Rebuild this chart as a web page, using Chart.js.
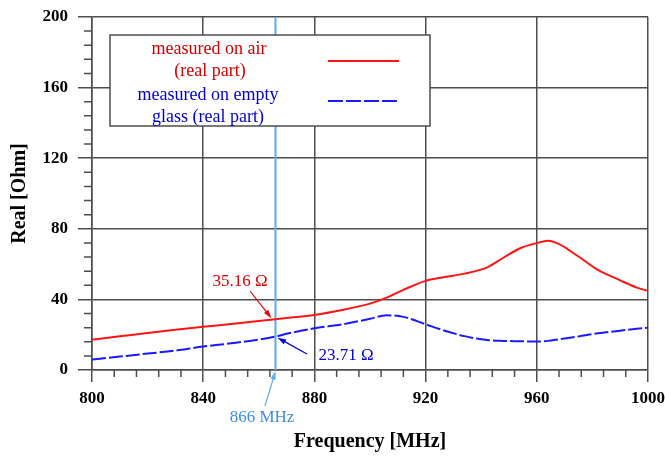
<!DOCTYPE html>
<html>
<head>
<meta charset="utf-8">
<script src="https://cdn.jsdelivr.net/npm/chart.js@4"></script>
<style>
  body { margin: 0; background: #fff; }
  canvas { display: block; }
</style>
</head>
<body>
<canvas id="chart" width="665" height="456"></canvas>
<script>
const freqs = [800, 810, 820, 830, 840, 850, 860, 866, 870, 880, 890, 900, 906, 912, 920, 926, 934, 942, 948, 954, 960, 964, 968, 975, 982, 990, 996, 1000];
const airReal = [17.2, 19.1, 21.0, 22.8, 24.5, 26.0, 27.7, 28.8, 29.5, 31.2, 34.0, 37.6, 41.0, 45.4, 50.5, 52.4, 54.6, 58.0, 63.6, 69.0, 71.9, 73.2, 71.3, 64.3, 56.7, 50.8, 46.7, 44.8];
const glassReal = [5.9, 7.6, 9.3, 11.0, 13.3, 15.1, 17.2, 18.9, 20.5, 23.6, 25.9, 29.0, 31.0, 30.1, 25.9, 22.7, 19.2, 17.0, 16.5, 16.3, 16.1, 16.5, 17.4, 19.0, 20.8, 22.3, 23.4, 24.0];
const seriesNames = [["measured on air", "(real part)"], ["measured on empty", "glass (real part)"]];
const xTicks = [800, 840, 880, 920, 960, 1000];
const yTicks = [0, 40, 80, 120, 160, 200];
const markerFreq = 866;
const airLabel = "35.16 Ω";
const glassLabel = "23.71 Ω";

const SERIF = "'Liberation Serif', 'Times New Roman', serif";
const GRID = "#4d4d4d";
const RED = "#ff1414";
const BLUE = "#1a1aff";
const MARKER = "#5aacf0";

function arrow(ctx, x0, y0, x1, y1, color) {
  const ang = Math.atan2(y1 - y0, x1 - x0);
  const head = 9;
  ctx.save();
  ctx.strokeStyle = color;
  ctx.fillStyle = color;
  ctx.lineWidth = 1.2;
  ctx.beginPath();
  ctx.moveTo(x0, y0);
  ctx.lineTo(x1 - Math.cos(ang) * head * 0.8, y1 - Math.sin(ang) * head * 0.8);
  ctx.stroke();
  ctx.beginPath();
  ctx.moveTo(x1, y1);
  ctx.lineTo(x1 - head * Math.cos(ang - 0.3), y1 - head * Math.sin(ang - 0.3));
  ctx.lineTo(x1 - head * Math.cos(ang + 0.3), y1 - head * Math.sin(ang + 0.3));
  ctx.closePath();
  ctx.fill();
  ctx.restore();
}

const extras = {
  id: "extras",
  beforeDatasetsDraw(chart) {
    const { ctx, chartArea, scales: { x, y } } = chart;
    // minor ticks every 8 units
    ctx.save();
    ctx.strokeStyle = GRID;
    ctx.lineWidth = 1.5;
    ctx.beginPath();
    for (let f = 808; f < 1000; f += 8) {
      if (f % 40 === 0) continue;
      const px = x.getPixelForValue(f);
      ctx.moveTo(px, chartArea.bottom);
      ctx.lineTo(px, chartArea.bottom + 7);
    }
    for (let v = 8; v < 200; v += 8) {
      if (v % 40 === 0) continue;
      const py = y.getPixelForValue(v);
      ctx.moveTo(chartArea.left - 8, py);
      ctx.lineTo(chartArea.left, py);
    }
    ctx.stroke();
    // 866 MHz marker
    const mx = x.getPixelForValue(markerFreq);
    ctx.strokeStyle = MARKER;
    ctx.lineWidth = 2;
    ctx.beginPath();
    ctx.moveTo(mx, chartArea.top);
    ctx.lineTo(mx, chartArea.bottom);
    ctx.stroke();
    ctx.restore();
  },
  afterDatasetsDraw(chart) {
    const { ctx, chartArea, scales: { x, y } } = chart;
    const i = freqs.indexOf(markerFreq);
    const mx = x.getPixelForValue(markerFreq);
    const airY = y.getPixelForValue(airReal[i]);
    const glassY = y.getPixelForValue(glassReal[i]);

    ctx.save();
    ctx.textAlign = "center";
    ctx.textBaseline = "middle";
    ctx.font = "17px " + SERIF;
    ctx.fillStyle = "#d80000";
    ctx.fillText(airLabel, 240, 282);
    arrow(ctx, 250, 291, mx - 4, airY - 1, "#e00000");
    ctx.fillStyle = "#0000c8";
    ctx.fillText(glassLabel, 346, 356);
    arrow(ctx, 307, 354, mx + 2, glassY + 1, "#0000e0");
    ctx.fillStyle = "#3a8ee0";
    ctx.fillText(markerFreq + " MHz", 262, 418);
    arrow(ctx, 265, 406, mx, chartArea.bottom + 1, MARKER);

    // legend box
    ctx.fillStyle = "#fff";
    ctx.fillRect(110, 35, 320, 91);
    ctx.strokeStyle = GRID;
    ctx.lineWidth = 1.5;
    ctx.strokeRect(110, 35, 320, 91);
    ctx.font = "18px " + SERIF;
    ctx.fillStyle = "#d00000";
    ctx.fillText(seriesNames[0][0], 209, 49);
    ctx.fillText(seriesNames[0][1], 210, 71);
    ctx.fillStyle = "#0000cc";
    ctx.fillText(seriesNames[1][0], 208, 95);
    ctx.fillText(seriesNames[1][1], 208, 117);
    ctx.lineWidth = 2;
    ctx.strokeStyle = RED;
    ctx.beginPath();
    ctx.moveTo(328, 61);
    ctx.lineTo(399, 61);
    ctx.stroke();
    ctx.strokeStyle = BLUE;
    ctx.setLineDash([15, 3]);
    ctx.beginPath();
    ctx.moveTo(328, 101);
    ctx.lineTo(399, 101);
    ctx.stroke();
    ctx.restore();
  }
};

// keep the plot box fixed regardless of tick label overhang
function fixBox(scale) {
  scale.paddingLeft = 0;
  scale.paddingRight = 0;
  scale.paddingTop = 0;
  scale.paddingBottom = 0;
}

const ctx = document.getElementById("chart").getContext("2d");
new Chart(ctx, {
  type: "line",
  data: {
    datasets: [
      {
        label: seriesNames[0].join(" "),
        data: freqs.map((f, i) => ({ x: f, y: airReal[i] })),
        borderColor: RED,
        borderWidth: 2,
        pointRadius: 0,
        cubicInterpolationMode: "monotone",
        fill: false
      },
      {
        label: seriesNames[1].join(" "),
        data: freqs.map((f, i) => ({ x: f, y: glassReal[i] })),
        borderColor: BLUE,
        borderWidth: 2,
        borderDash: [14, 3],
        pointRadius: 0,
        cubicInterpolationMode: "monotone",
        fill: false
      }
    ]
  },
  options: {
    responsive: false,
    animation: false,
    devicePixelRatio: 1,
    layout: { padding: { left: 0, right: 17, top: 17, bottom: 0 } },
    plugins: {
      legend: { display: false },
      tooltip: { enabled: false }
    },
    scales: {
      x: {
        type: "linear",
        min: 800,
        max: 1000,
        afterBuildTicks: (scale) => { scale.ticks = xTicks.map(v => ({ value: v })); },
        afterFit: (scale) => { scale.height = 86; fixBox(scale); },
        ticks: {
          color: "#000",
          padding: 6,
          font: { family: SERIF, size: 17, weight: "bold" },
          callback: (v) => String(v)
        },
        grid: { color: GRID, lineWidth: 1.5, tickLength: 12 },
        border: { color: GRID, width: 1.5 },
        title: {
          display: true,
          text: "Frequency [MHz]",
          color: "#000",
          font: { family: SERIF, size: 20, weight: "bold" },
          padding: { top: 0, bottom: 2 }
        }
      },
      y: {
        min: 0,
        max: 200,
        afterBuildTicks: (scale) => { scale.ticks = yTicks.map(v => ({ value: v })); },
        afterFit: (scale) => { scale.width = 92; fixBox(scale); },
        ticks: {
          color: "#000",
          padding: 10,
          font: { family: SERIF, size: 17, weight: "bold" },
          callback: (v) => String(v)
        },
        grid: { color: GRID, lineWidth: 1.5, tickLength: 14 },
        border: { color: GRID, width: 1.5 },
        title: {
          display: true,
          text: "Real [Ohm]",
          color: "#000",
          font: { family: SERIF, size: 20, weight: "bold" },
          padding: { top: 8, bottom: 0 }
        }
      }
    }
  },
  plugins: [extras]
});
</script>
</body>
</html>
